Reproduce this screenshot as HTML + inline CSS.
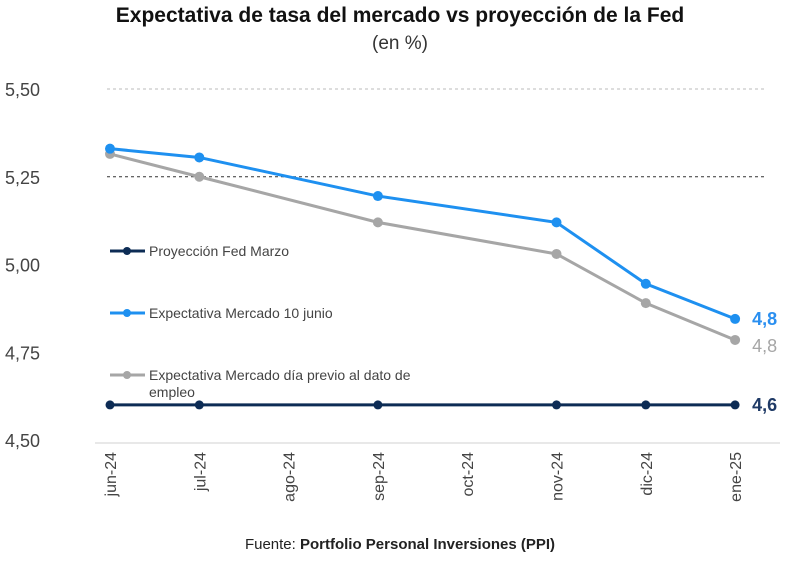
<!DOCTYPE html>
<html><head><meta charset="utf-8"><style>
body{margin:0;background:#fff;}
svg text{font-family:"Liberation Sans",sans-serif;}
</style></head><body>
<svg id="c" width="800" height="557">
<text x="400" y="22" text-anchor="middle" font-size="21" font-weight="bold" fill="#111">Expectativa de tasa del mercado vs proyección de la Fed</text>
<text x="400" y="49" text-anchor="middle" font-size="19" fill="#333">(en %)</text>
<g id="grid"></g><g id="axes"></g><g id="series"></g>
<text x="400" y="549" text-anchor="middle" font-size="15" fill="#222">Fuente: <tspan font-weight="bold">Portfolio Personal Inversiones (PPI)</tspan></text>
</svg>
<script>
const categories=["jun-24","jul-24","ago-24","sep-24","oct-24","nov-24","dic-24","ene-25"];
const yTicks=[4.50,4.75,5.00,5.25,5.50];
const yTickLabels=["4,50","4,75","5,00","5,25","5,50"];
const fedIdx=[0,1,3,5,6,7];
const fedValues=[4.6,4.6,4.6,4.6,4.6,4.6];
const june10Idx=[0,1,3,5,6,7];
const june10Values=[5.33,5.305,5.195,5.12,4.945,4.845];
const prevIdx=[0,1,3,5,6,7];
const prevValues=[5.315,5.25,5.12,5.03,4.89,4.785];
const endLabels=["4,6","4,8","4,8"];
const NS="http://www.w3.org/2000/svg";
const x=i=>110+i*89.3;
const y=v=>440-(v-4.5)*351;
function mk(tag,attrs,parent){const e=document.createElementNS(NS,tag);for(const k in attrs)e.setAttribute(k,attrs[k]);parent.appendChild(e);return e;}
const grid=document.getElementById('grid'),axes=document.getElementById('axes'),ser=document.getElementById('series');
yTicks.forEach((t,i)=>{
  const tx=mk('text',{x:5,y:y(t)+7,'font-size':18,fill:'#444'},axes);tx.textContent=yTickLabels[i];
  
  
  if(t==5.5){const l=mk('line',{x1:107,x2:765,y1:y(t),y2:y(t),stroke:'#bbb','stroke-dasharray':'3,3'},grid);
    
    }
  if(t==5.25){const l=mk('line',{x1:107,x2:765,y1:y(t),y2:y(t),stroke:'#333','stroke-dasharray':'3,3'},grid);
    
    }
});
const ax=mk('line',{x1:95,x2:780,y1:443,y2:443,stroke:'#e0e0e0','stroke-width':1.5},axes);


categories.forEach((c,i)=>{
  const t=mk('text',{x:0,y:0,'font-size':16,fill:'#444','text-anchor':'end',transform:`translate(${x(i)+6},452) rotate(-90)`},axes);
  t.textContent=c;
  
  
});
function series(idx,vals,color,name,r){
  const g=mk('g',{},ser);
  
  
  mk('polyline',{points:idx.map((k,j)=>x(k)+','+y(vals[j])).join(' '),fill:'none',stroke:color,'stroke-width':3},g);
  idx.forEach((k,j)=>{const c=mk('circle',{cx:x(k),cy:y(vals[j]),r:r,fill:color},g);
    
    });
}
series(prevIdx,prevValues,'#a6a6a6','series-previous-day',5);
series(june10Idx,june10Values,'#1e90f0','series-june-10',5);
series(fedIdx,fedValues,'#0d2c55','series-fed-projection',4.5);
const last=categories.length-1;
[[fedValues,'#1f3a66',0],[june10Values,'#2a8ff0',1],[prevValues,'#a6a6a6',2]].forEach(([vals,col,k])=>{
  const t=mk('text',{x:x(last)+17,y:y(vals[vals.length-1])+(k==2?12:6),'font-size':18,'font-weight':k==2?'normal':'bold',fill:col},ser);
  t.textContent=endLabels[k];
  
  
});
const legend=[["Proyección Fed Marzo",'#0d2c55',251],["Expectativa Mercado 10 junio",'#1e90f0',313],["Expectativa Mercado día previo al dato de",'#a6a6a6',375]];
legend.forEach(([label,col,ly])=>{
  const g=mk('g',{},ser);
  
  
  mk('line',{x1:110,x2:145,y1:ly,y2:ly,stroke:col,'stroke-width':3},g);
  mk('circle',{cx:127,cy:ly,r:4,fill:col},g);
  const t=mk('text',{x:149,y:ly+5,'font-size':14,fill:'#444'},g);t.textContent=label;
});
const e=mk('text',{x:149,y:397,'font-size':14,fill:'#444'},ser);e.textContent="empleo";


</script>
</body></html>
